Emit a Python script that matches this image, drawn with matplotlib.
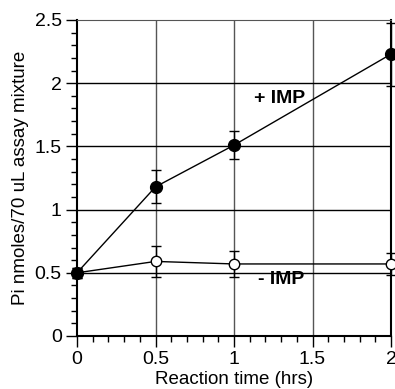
import matplotlib.pyplot as plt
from matplotlib.ticker import MultipleLocator

plt.rcParams['font.family'] = ['Liberation Sans', 'DejaVu Sans']

hours = [0, 0.5, 1, 2]
plus_imp = [0.50, 1.18, 1.51, 2.23]
plus_err = [0.04, 0.13, 0.11, 0.25]
minus_imp = [0.50, 0.59, 0.57, 0.57]
minus_err = [0.04, 0.12, 0.10, 0.09]


def main():
    fig = plt.figure(figsize=(3.95, 3.89), dpi=100)
    ax = fig.add_axes([77 / 395, 53 / 389, 314 / 395, 316 / 389])

    ax.set_xlim(0, 2)
    ax.set_ylim(0, 2.5)
    ax.xaxis.set_minor_locator(MultipleLocator(0.1))
    ax.yaxis.set_minor_locator(MultipleLocator(0.1))
    ax.set_xticks([0, 0.5, 1, 1.5, 2])
    ax.set_xticklabels(['0', '0.5', '1', '1.5', '2'])
    ax.set_yticks([0, 0.5, 1, 1.5, 2, 2.5])
    ax.set_yticklabels(['0', '0.5', '1', '1.5', '2', '2.5'])

    for x in [0.5, 1, 1.5]:
        ax.axvline(x, color='#555555', lw=1, zorder=1)
    for y in [0.5, 1, 1.5, 2]:
        ax.axhline(y, color='black', lw=1, zorder=1)

    ax.tick_params(which='major', direction='out', length=8, width=1, labelsize=14, pad=3)
    ax.tick_params(which='minor', direction='out', length=4, width=1)
    ax.tick_params(top=False, right=False)
    for s in ['left', 'bottom']:
        ax.spines[s].set_linewidth(1.5)
    ax.spines['top'].set_color('#555555')
    ax.spines['right'].set_linewidth(1.5)

    ax.errorbar(hours, minus_imp, yerr=minus_err, color='black', lw=1,
                marker='o', ms=7.5, mfc='white', mec='black', mew=1,
                capsize=3.6, elinewidth=1, capthick=1, clip_on=False, zorder=2.5)
    ax.errorbar(hours, plus_imp, yerr=plus_err, color='black', lw=1,
                marker='o', ms=8.5, mfc='black', mec='black',
                capsize=3.6, elinewidth=1, capthick=1, clip_on=False, zorder=3)

    ax.text(1.29, 1.88, '+ IMP', fontsize=14, fontweight='bold',
            ha='center', va='center')
    ax.text(1.30, 0.45, '- IMP', fontsize=14, fontweight='bold',
            ha='center', va='center')

    ax.set_xlabel('Reaction time (hrs)', fontsize=13.5, labelpad=2)
    ax.set_ylabel('Pi nmoles/70 uL assay mixture', fontsize=13.5, labelpad=4)

    fig.savefig('out.png', dpi=100)


if __name__ == "__main__":
    main()
